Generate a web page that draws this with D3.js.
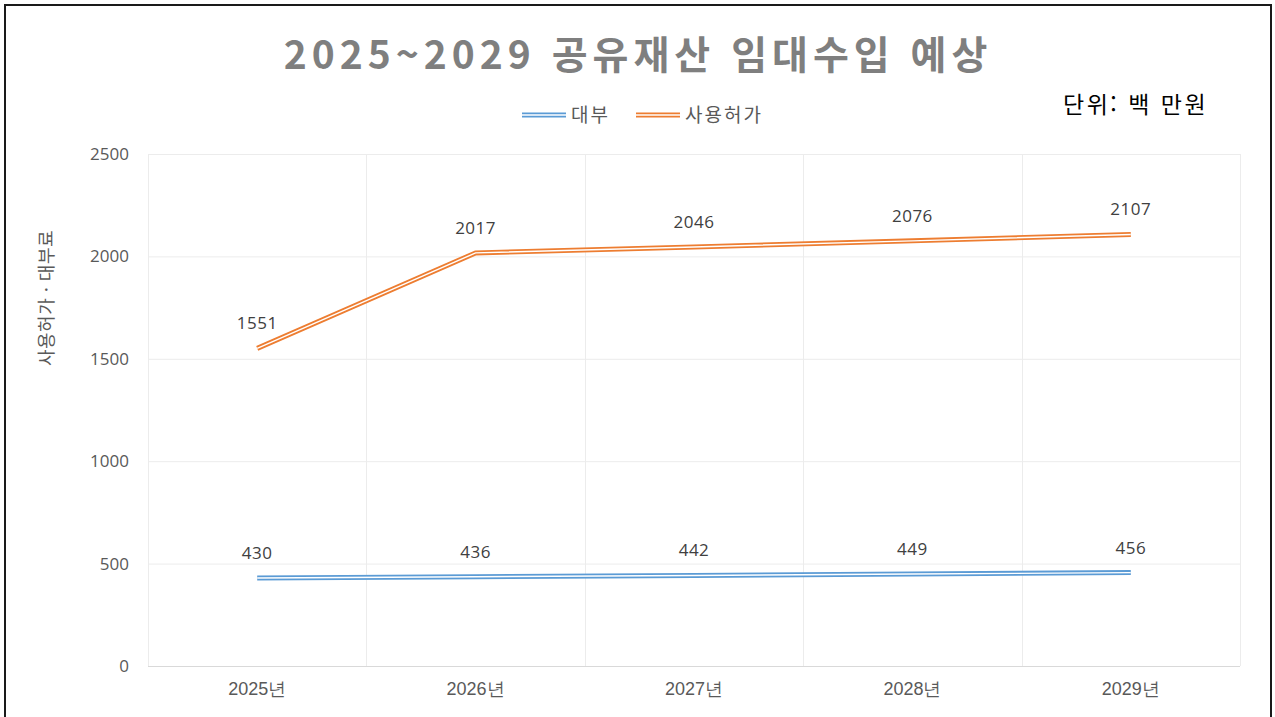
<!DOCTYPE html>
<html lang="ko">
<head>
<meta charset="UTF-8">
<script src="https://d3js.org/d3.v7.min.js"></script>
<style>
  body { margin: 0; background: #fff; }
  svg { display: block; font-family: "Noto Sans CJK KR", "Noto Sans", sans-serif; }
</style>
</head>
<body>
<div id="chart"></div>
<script>
// data
const years = ["2025년", "2026년", "2027년", "2028년", "2029년"];
const loanValues = [430, 436, 442, 449, 456];      // 대부
const permitValues = [1551, 2017, 2046, 2076, 2107]; // 사용허가
const yTicks = [0, 500, 1000, 1500, 2000, 2500];

const w = 1275, h = 717;
const plot = { left: 148, right: 1240, top: 154, bottom: 666 };

const svg = d3.select("#chart").append("svg")
    .attr("width", w)
    .attr("height", h);

// outer frame
svg.append("rect")
    .attr("x", 5).attr("y", 5)
    .attr("width", 1266).attr("height", 730)
    .attr("fill", "none")
    .attr("stroke", "#1a1a1a")
    .attr("stroke-width", 2);

const xScale = d3.scaleBand()
    .domain(years)
    .range([plot.left, plot.right]);

const yScale = d3.scaleLinear()
    .domain([0, 2500])
    .range([plot.bottom, plot.top]);

// horizontal gridlines
svg.append("g")
    .selectAll("line")
    .data(yTicks)
    .enter()
    .append("line")
    .attr("x1", plot.left)
    .attr("x2", plot.right)
    .attr("y1", d => yScale(d) + 0.5)
    .attr("y2", d => yScale(d) + 0.5)
    .attr("stroke", d => d === 0 ? "#d9d9d9" : "#ececec")
    .attr("stroke-width", 1);

// vertical gridlines at category boundaries
const bounds = years.map(d => xScale(d)).concat([plot.right]);
svg.append("g")
    .selectAll("line")
    .data(bounds)
    .enter()
    .append("line")
    .attr("x1", d => Math.round(d) + 0.5)
    .attr("x2", d => Math.round(d) + 0.5)
    .attr("y1", plot.top)
    .attr("y2", plot.bottom)
    .attr("stroke", "#ececec")
    .attr("stroke-width", 1);

// y axis
const yAxis = d3.axisLeft(yScale)
    .tickValues(yTicks)
    .tickFormat(d3.format("d"))
    .tickSize(0)
    .tickPadding(19);

svg.append("g")
    .attr("transform", `translate(${plot.left},0)`)
    .call(yAxis)
    .call(g => g.select(".domain").remove())
    .call(g => g.selectAll("text")
        .attr("font-size", "17px")
        .attr("fill", "#595959")
        .attr("font-family", "'Open Sans', 'Noto Sans', sans-serif"));

// x axis
const xAxis = d3.axisBottom(xScale).tickSize(0).tickPadding(16);

svg.append("g")
    .attr("transform", `translate(0,${plot.bottom})`)
    .call(xAxis)
    .call(g => g.select(".domain").remove())
    .call(g => g.selectAll("text")
        .attr("font-size", "18px")
        .attr("fill", "#595959"));

// double lines
const series = [
    { name: "대부", values: loanValues, color: "#5b9bd5" },
    { name: "사용허가", values: permitValues, color: "#ed7d31" }
];

const line = d3.line()
    .x((d, i) => xScale(years[i]) + xScale.bandwidth() / 2)
    .y(d => yScale(d));

series.forEach(s => {
    svg.append("path")
        .datum(s.values)
        .attr("fill", "none")
        .attr("stroke", s.color)
        .attr("stroke-width", 5)
        .attr("d", line);
    svg.append("path")
        .datum(s.values)
        .attr("fill", "none")
        .attr("stroke", "#ffffff")
        .attr("stroke-width", 1.4)
        .attr("d", line);

    svg.append("g")
        .selectAll("text")
        .data(s.values)
        .enter()
        .append("text")
        .attr("x", (d, i) => xScale(years[i]) + xScale.bandwidth() / 2)
        .attr("y", d => yScale(d) - 19)
        .attr("text-anchor", "middle")
        .attr("font-size", "17px")
        .attr("letter-spacing", "0.5px")
        .attr("font-family", "'Open Sans', 'Noto Sans', sans-serif")
        .attr("fill", "#404040")
        .text(d => d);
});

// title
svg.append("text")
    .attr("x", 638)
    .attr("y", 69)
    .attr("text-anchor", "middle")
    .attr("font-size", "39px")
    .attr("font-weight", "bold")
    .attr("letter-spacing", "5px")
    .attr("fill", "#7f7f7f")
    .text("2025~2029 공유재산 임대수입 예상");

// legend
const legendItems = [
    { label: "대부", x: 522, color: "#5b9bd5" },
    { label: "사용허가", x: 636, color: "#ed7d31" }
];
legendItems.forEach(item => {
    svg.append("line")
        .attr("x1", item.x).attr("x2", item.x + 44)
        .attr("y1", 115).attr("y2", 115)
        .attr("stroke", item.color)
        .attr("stroke-width", 5);
    svg.append("line")
        .attr("x1", item.x).attr("x2", item.x + 44)
        .attr("y1", 115).attr("y2", 115)
        .attr("stroke", "#fff")
        .attr("stroke-width", 1.4);
    svg.append("text")
        .attr("x", item.x + 49)
        .attr("y", 122)
        .attr("font-size", "19px")
        .attr("letter-spacing", "2px")
        .attr("fill", "#595959")
        .text(item.label);
});

// unit
svg.append("text")
    .attr("x", 1063)
    .attr("y", 113)
    .attr("font-size", "23px")
    .attr("letter-spacing", "2.5px")
    .attr("fill", "#000")
    .text("단위: 백 만원");

// y axis title
svg.append("text")
    .attr("transform", "translate(53,298) rotate(-90)")
    .attr("text-anchor", "middle")
    .attr("font-size", "18px")
    .attr("letter-spacing", "0.5px")
    .attr("fill", "#595959")
    .text("사용허가 · 대부료");
</script>
</body>
</html>
